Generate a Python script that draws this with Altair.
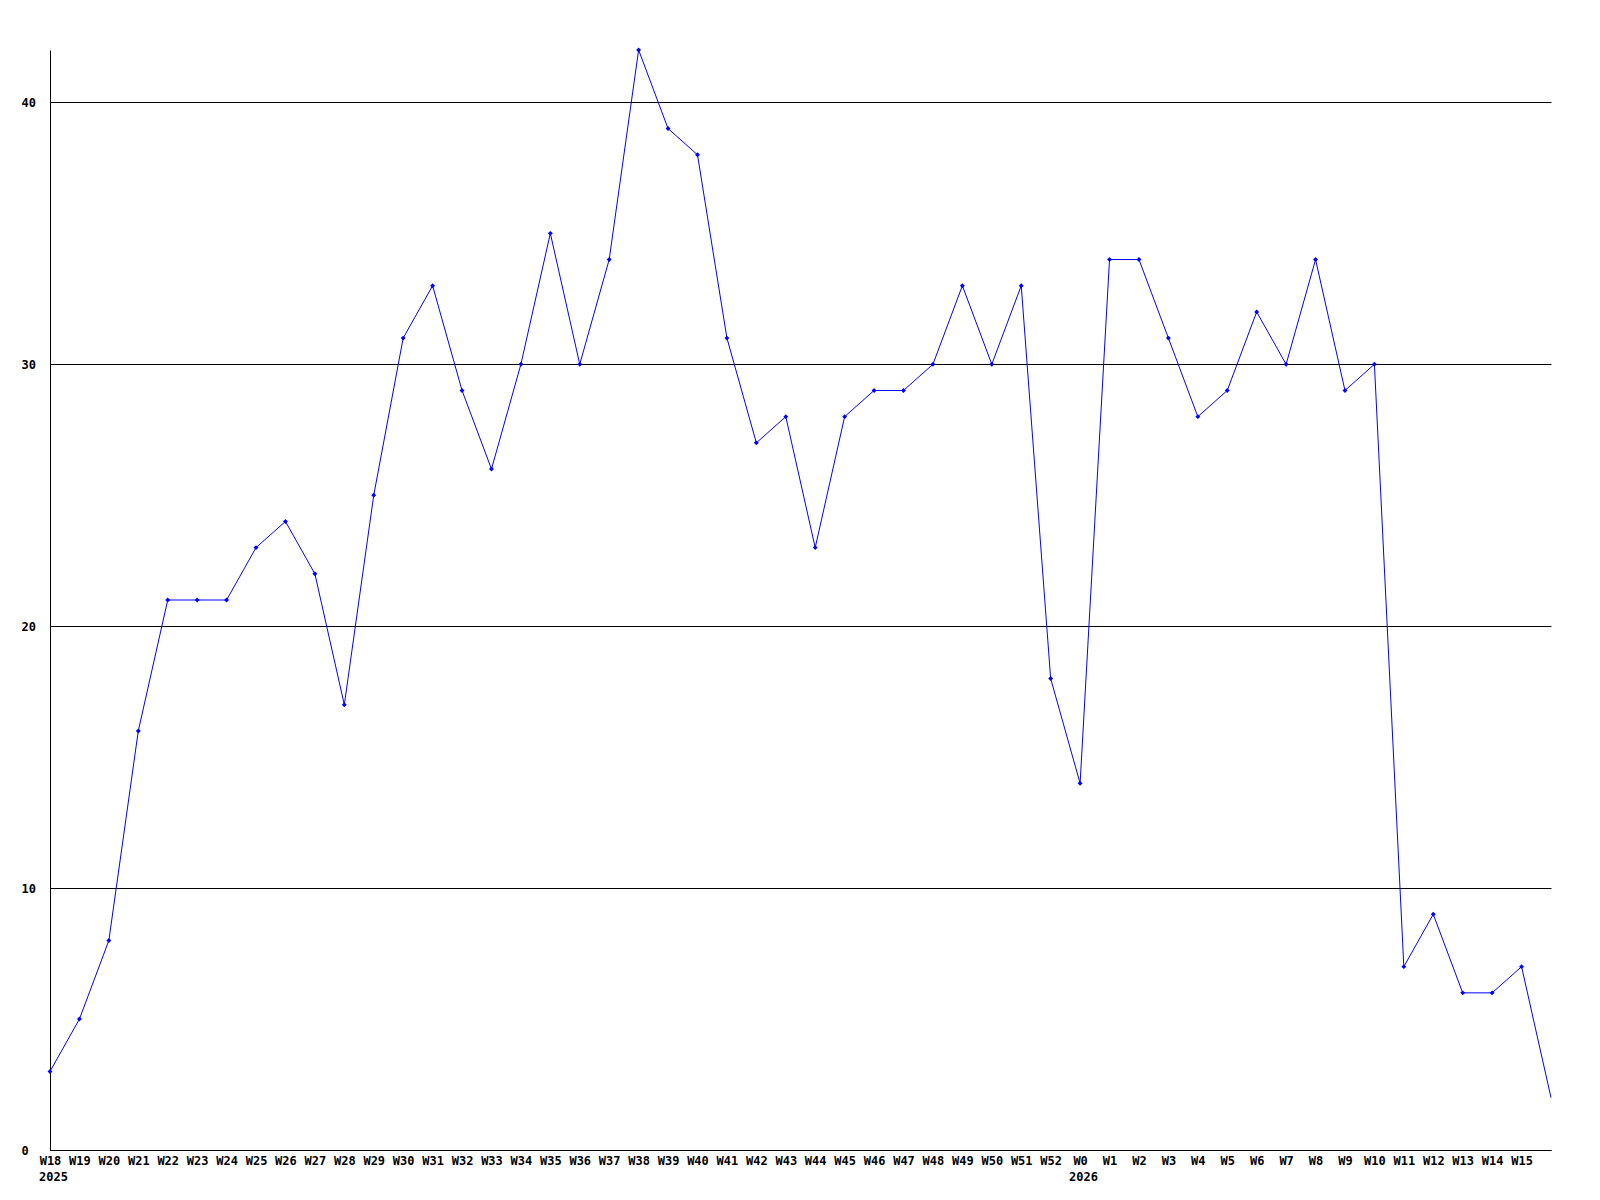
import altair as alt
import pandas as pd

weeks = ["W18","W19","W20","W21","W22","W23","W24","W25","W26","W27","W28","W29","W30",
         "W31","W32","W33","W34","W35","W36","W37","W38","W39","W40","W41","W42","W43",
         "W44","W45","W46","W47","W48","W49","W50","W51","W52","W0","W1","W2","W3","W4",
         "W5","W6","W7","W8","W9","W10","W11","W12","W13","W14","W15","W16"]
values = [3,5,8,16,21,21,21,23,24,22,17,25,31,
          33,29,26,30,35,30,34,42,39,38,31,27,28,
          23,28,29,29,30,33,30,33,18,14,34,34,31,28,
          29,32,30,34,29,30,7,9,6,6,7,2]
year_weeks = ["W18", "W0"]
year_labels = ["2025", "2026"]
labelled_weeks = weeks[:-1]

df = pd.DataFrame({"week": weeks, "value": values})
df_pts = df[df["week"] != weeks[-1]]
df_years = pd.DataFrame({"week": year_weeks, "year": year_labels})

FONT = "DejaVu Sans Mono"
FS = 12
W, H = 1501, 1100

x_enc = alt.X("week:N", sort=weeks,
              scale=alt.Scale(type="point", padding=0, domain=weeks),
              axis=alt.Axis(values=labelled_weeks, title=None, labelAngle=0,
                            ticks=False, labelPadding=5, domainColor="black",
                            domainWidth=1, labelFont=FONT, labelFontSize=FS,
                            labelFontWeight="bold", labelColor="black",
                            grid=False, labelOverlap=False))
y_enc = alt.Y("value:Q",
              scale=alt.Scale(domain=[0, 42], nice=False, zero=True),
              axis=alt.Axis(values=[0, 10, 20, 30, 40], title=None, ticks=False,
                            labelAlign="left", labelPadding=29,
                            domainColor="black", domainWidth=1,
                            grid=True, gridColor="black", gridWidth=1, gridOpacity=1,
                            labelFont=FONT, labelFontSize=FS, labelFontWeight="bold",
                            labelColor="black"))

line = alt.Chart(df).mark_line(color="#0000ff", strokeWidth=1).encode(x=x_enc, y=y_enc)
pts = alt.Chart(df_pts).mark_point(shape="diamond", filled=True, color="#0000ff",
                                   size=24, opacity=1).encode(
    x=alt.X("week:N", sort=weeks), y="value:Q")
years = alt.Chart(df_years).mark_text(align="left", baseline="middle", dx=-11,
                                      font=FONT, fontSize=FS, fontWeight="bold",
                                      color="black").encode(
    x=alt.X("week:N", sort=weeks), y=alt.value(H + 27), text="year:N")

chart = alt.layer(line, pts, years).properties(
    width=W, height=H,
    background="white",
    autosize=alt.AutoSizeParams(type="none"),
    padding={"left": 42, "top": 42, "right": 30, "bottom": 40},
).configure_view(strokeWidth=0, stroke="transparent")

chart.save("out.html", embed_options={"renderer": "svg", "actions": False})
